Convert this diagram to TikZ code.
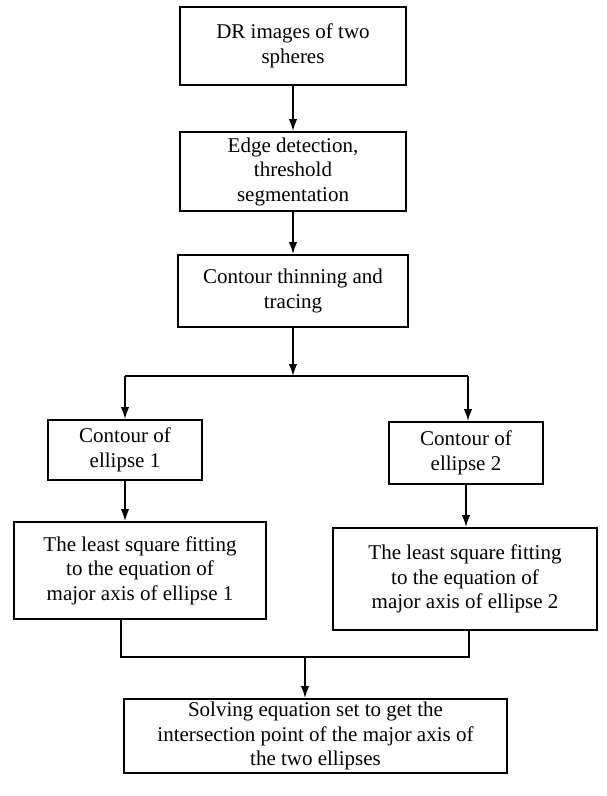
\documentclass[tikz,border=0pt]{standalone}
\usepackage{fontspec}
\setmainfont{Liberation Serif}
\usetikzlibrary{arrows.meta, positioning}

\begin{document}
\begin{tikzpicture}[x=1pt, y=-1pt,
    box/.style={draw, line width=1.8pt, align=center, inner sep=0pt,
      font=\fontsize{21}{24.5}\selectfont},
    arr/.style={-{Latex[length=12pt,width=8.5pt]}, line width=1.8pt},
    ln/.style={line width=1.8pt}]
  \useasboundingbox (0,0) rectangle (607,796);
  \node[box, minimum width=226pt, minimum height=78pt] (dr) at (293,46) {DR images of two\\spheres};
  \node[box, minimum width=226pt, minimum height=79pt] (edge) at (293,171.5) {Edge detection,\\threshold\\segmentation};
  \node[box, minimum width=230pt, minimum height=72pt] (thin) at (293,291) {Contour thinning and\\tracing};
  \node[box, minimum width=154pt, minimum height=60pt] (cl) at (125,450) {Contour of\\ellipse 1};
  \node[box, minimum width=154pt, minimum height=62pt] (cr) at (466,453) {Contour of\\ellipse 2};
  \node[box, minimum width=252pt, minimum height=97pt] (fl) at (140,570.5) {The least square fitting\\to the equation of\\major axis of ellipse 1};
  \node[box, minimum width=264pt, minimum height=102pt] (fr) at (465,579) {The least square fitting\\to the equation of\\major axis of ellipse 2};
  \node[box, minimum width=383pt, minimum height=74pt] (solve) at (315.5,736) {Solving equation set to get the\\intersection point of the major axis of\\the two ellipses};
  \coordinate (sl) at (125,376);
  \coordinate (sr) at (468,376);
  \coordinate (ml) at (121,657);
  \coordinate (mr) at (469,657);
  \coordinate (mm) at (305,657);
  \draw[arr] (dr) -- (edge);
  \draw[arr] (edge) -- (thin);
  \draw[arr] (thin) -- (thin |- sl);
  \draw[ln] (sl) -- (sr);
  \draw[arr] (sl) -- (cl);
  \draw[arr] (sr) -- (sr |- cr.north);
  \draw[arr] (cl) -- (cl |- fl.north);
  \draw[arr] (cr) -- (cr |- fr.north);
  \draw[ln] (fl.south -| ml) -- (ml) -- (mr) -- (fr.south -| mr);
  \draw[arr] (mm) -- (mm |- solve.north);
\end{tikzpicture}
\end{document}
